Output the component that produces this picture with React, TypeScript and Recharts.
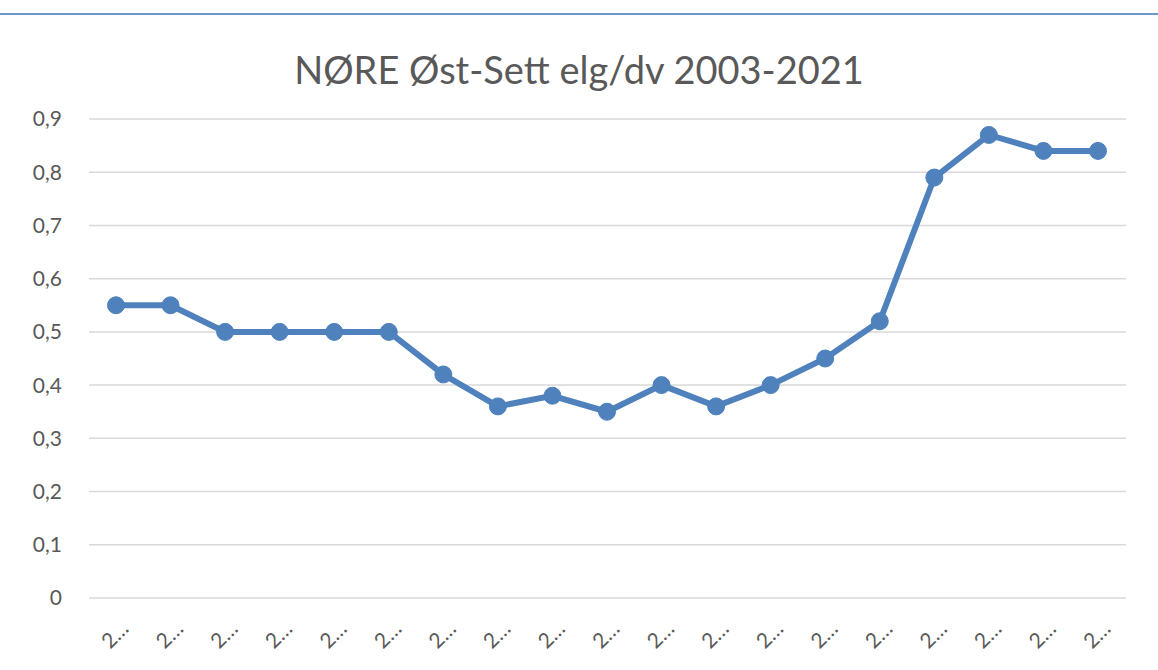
import { LineChart, Line, XAxis, YAxis, CartesianGrid } from 'recharts';

const years = [
  '2003', '2004', '2005', '2006', '2007', '2008', '2009', '2010', '2011', '2012',
  '2013', '2014', '2015', '2016', '2017', '2018', '2019', '2020', '2021',
];
const settElgPerDag = [
  0.55, 0.55, 0.5, 0.5, 0.5, 0.5, 0.42, 0.36, 0.38, 0.35,
  0.4, 0.36, 0.4, 0.45, 0.52, 0.79, 0.87, 0.84, 0.84,
];
const yTicks = [0, 0.1, 0.2, 0.3, 0.4, 0.5, 0.6, 0.7, 0.8, 0.9];

const data = years.map((year, i) => ({ year, value: settElgPerDag[i] }));

const FONT = 'Lato, "Open Sans", sans-serif';
const TEXT = '#595959';

// Excel truncates the rotated year labels to "2…"
function YearTick({ x, y }: { x?: number; y?: number }) {
  const tx = (x ?? 0) + 14;
  const ty = (y ?? 0) + 24;
  return (
    <text
      x={tx}
      y={ty}
      transform={`rotate(-45 ${tx} ${ty})`}
      textAnchor="end"
      fill={TEXT}
      fontSize={21}
      fontFamily={FONT}
    >
      2…
    </text>
  );
}

export default function App() {
  return (
    <div
      style={{
        position: 'fixed',
        left: 0,
        top: 0,
        width: 1158,
        height: 670,
        background: '#fff',
        fontFamily: FONT,
      }}
    >
      <div
        style={{
          position: 'absolute',
          left: 0,
          right: 0,
          top: 13,
          height: 2,
          background: '#6f96c8',
        }}
      />
      <div
        style={{
          position: 'absolute',
          left: 0,
          right: 0,
          top: 45,
          textAlign: 'center',
          fontSize: 38,
          lineHeight: '48px',
          color: TEXT,
        }}
      >
        NØRE Øst-Sett elg/dv 2003-2021
      </div>
      <LineChart
        width={1158}
        height={670}
        data={data}
        margin={{ top: 119, right: 32, bottom: 0, left: 0 }}
      >
        <CartesianGrid vertical={false} stroke="#d9d9d9" strokeWidth={1.5} />
        <XAxis
          dataKey="year"
          axisLine={false}
          tickLine={false}
          interval={0}
          tick={<YearTick />}
          height={72}
          padding={{ left: 27, right: 28 }}
        />
        <YAxis
          domain={[0, 0.9]}
          ticks={yTicks}
          width={89}
          axisLine={false}
          tickLine={false}
          tickSize={0}
          tickMargin={27}
          tickFormatter={(v: number) => String(Math.round(v * 10) / 10).replace('.', ',')}
          tick={{ fill: TEXT, fontSize: 21, fontFamily: FONT }}
        />
        <Line
          type="linear"
          dataKey="value"
          stroke="#4f81bd"
          strokeWidth={6}
          dot={{ r: 8.5, fill: '#4f81bd', stroke: '#4f81bd', strokeWidth: 1 }}
          activeDot={false}
          isAnimationActive={false}
        />
      </LineChart>
    </div>
  );
}
